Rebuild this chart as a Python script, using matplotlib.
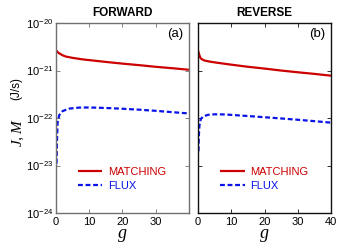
import matplotlib
matplotlib.use("Agg")
import matplotlib.pyplot as plt
from matplotlib.ticker import FixedLocator, NullLocator, LogFormatterMathtext

plt.rcParams['font.family'] = ['Liberation Sans', 'DejaVu Sans']
plt.rcParams['mathtext.fontset'] = 'custom'
plt.rcParams['mathtext.it'] = 'Liberation Serif:italic'
plt.rcParams['mathtext.rm'] = 'Liberation Sans'

# ---- data ----
g_fwd_match = [0, 0.5, 1, 2, 3, 5, 8, 10, 15, 20, 25, 30, 35, 40]
fwd_match = [2.7e-21, 2.45e-21, 2.3e-21, 2.1e-21, 1.97e-21, 1.85e-21, 1.72e-21,
             1.66e-21, 1.52e-21, 1.4e-21, 1.3e-21, 1.2e-21, 1.12e-21, 1.04e-21]
g_fwd_flux = [0.2, 0.3, 0.5, 1, 2, 4, 7, 10, 15, 20, 25, 30, 35, 40]
fwd_flux = [1.1e-23, 3e-23, 8e-23, 1.15e-22, 1.4e-22, 1.58e-22, 1.66e-22,
            1.67e-22, 1.63e-22, 1.57e-22, 1.5e-22, 1.42e-22, 1.33e-22, 1.25e-22]
g_rev_match = [0, 0.3, 0.6, 1, 2, 4, 7, 10, 15, 20, 25, 30, 35, 40]
rev_match = [2.6e-21, 2.2e-21, 1.9e-21, 1.75e-21, 1.62e-21, 1.52e-21, 1.42e-21,
             1.33e-21, 1.2e-21, 1.1e-21, 1.0e-21, 0.92e-21, 0.85e-21, 0.78e-21]
g_rev_flux = [0.1, 0.2, 0.4, 0.8, 1.5, 3, 5, 8, 12, 20, 25, 30, 35, 40]
rev_flux = [2e-23, 4e-23, 7e-23, 9.5e-23, 1.08e-22, 1.17e-22, 1.2e-22, 1.19e-22,
            1.14e-22, 1.04e-22, 0.98e-22, 0.92e-22, 0.86e-22, 0.8e-22]

titles = ["FORWARD", "REVERSE"]
panel_labels = ["(a)", "(b)"]
xticks_left = [0, 10, 20, 30]
xticks_right = [0, 10, 20, 30, 40]
yticks = [1e-24, 1e-23, 1e-22, 1e-21, 1e-20]

RED = '#cc0000'
BLUE = '#0a14e6'

fig = plt.figure(figsize=(3.41, 2.48), dpi=100)
axL = fig.add_axes([0.164, 0.141, 0.390, 0.766])
axR = fig.add_axes([0.581, 0.141, 0.390, 0.766])

panels = [
    (axL, g_fwd_match, fwd_match, g_fwd_flux, fwd_flux, xticks_left, '#707070'),
    (axR, g_rev_match, rev_match, g_rev_flux, rev_flux, xticks_right, '#111111'),
]

for i, (ax, gm, m, gf, f, xt, sc) in enumerate(panels):
    ax.plot(gm, m, color=RED, lw=1.6, solid_capstyle='butt', label='MATCHING')
    ax.plot(gf, f, color=BLUE, lw=1.6, dashes=(2.2, 1.2), label='FLUX')
    ax.set_yscale('log')
    ax.set_ylim(1e-24, 1e-20)
    ax.set_xlim(0, 40)
    ax.yaxis.set_major_locator(FixedLocator(yticks))
    ax.yaxis.set_major_formatter(LogFormatterMathtext())
    ax.yaxis.set_minor_locator(NullLocator())
    ax.xaxis.set_major_locator(FixedLocator(xt))
    ax.tick_params(axis='both', which='both', direction='in', top=True, right=True,
                   length=3, width=0.6, labelsize=8, color=sc)
    ax.tick_params(axis='x', pad=3)
    ax.tick_params(axis='y', pad=2)
    for s in ax.spines.values():
        s.set_color(sc)
        s.set_linewidth(1.0)
    ax.set_title(titles[i], fontsize=8.5, fontweight='bold', pad=5)
    ax.text(0.955, 0.94, panel_labels[i], transform=ax.transAxes, ha='right',
            va='center', fontsize=9.5)
    ax.set_xlabel('$g$', fontsize=13, labelpad=0)
    ax.legend(loc='center left', bbox_to_anchor=(0.165, 0.179), frameon=False,
              fontsize=8, handlelength=2.2, handletextpad=0.5, labelspacing=0.35,
              borderpad=0, borderaxespad=0, labelcolor='linecolor')

axR.tick_params(axis='y', labelleft=False)

# y-axis label: italic symbols plus units
fig.text(18 / 341, 1 - 133 / 248, '$J, M$', rotation=90, ha='center', va='center',
         fontsize=11)
fig.text(16 / 341, 1 - 88 / 248, '(J/s)', rotation=90, ha='center', va='center',
         fontsize=8.5)

fig.savefig('out.png', dpi=100)
